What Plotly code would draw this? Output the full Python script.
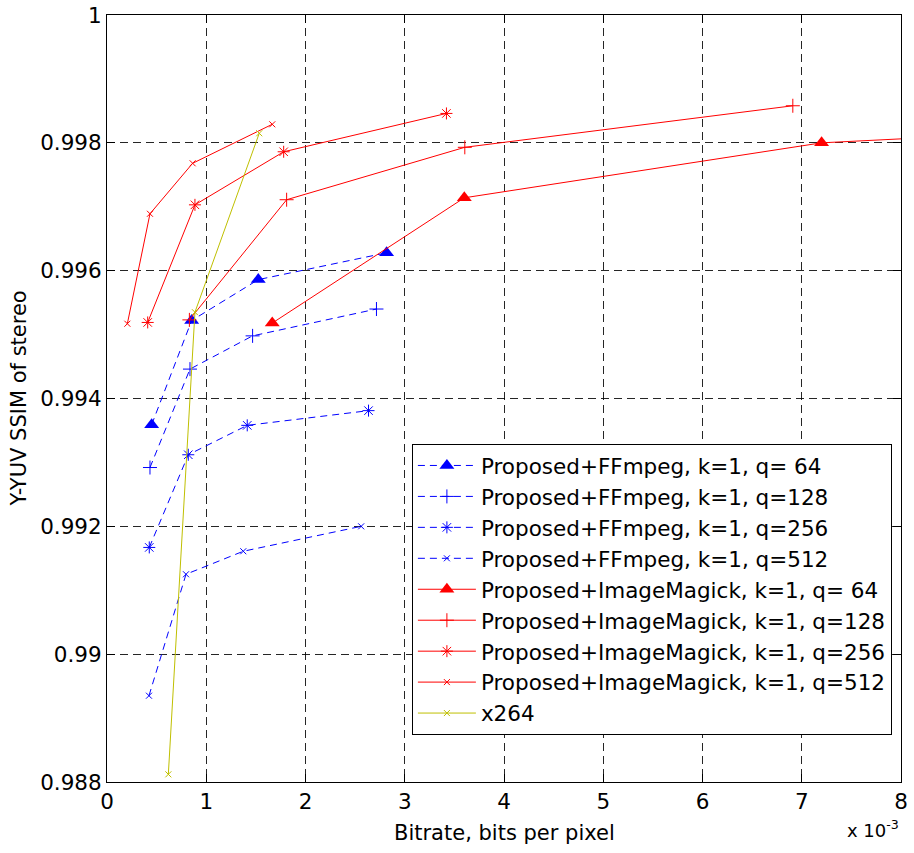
import plotly.graph_objects as go

# Bitrate (x 1e-3 bits per pixel) and Y-YUV SSIM for each coder configuration
ff64_bpp = [0.45, 0.853, 1.524, 2.817]
ff64_ssim = [0.99359, 0.99522, 0.99586, 0.99628]

ff128_bpp = [0.433, 0.836, 1.467, 2.715]
ff128_ssim = [0.99292, 0.99446, 0.99498, 0.99540]

ff256_bpp = [0.426, 0.819, 1.413, 2.635]
ff256_ssim = [0.99167, 0.99312, 0.99358, 0.99381]

ff512_bpp = [0.423, 0.796, 1.373, 2.561]
ff512_ssim = [0.98935, 0.99125, 0.99161, 0.99200]

im64_bpp = [1.665, 3.60, 7.20, 14.4]
im64_ssim = [0.99518, 0.99714, 0.99800, 0.99856]

im128_bpp = [0.83, 1.81, 3.605, 6.91]
im128_ssim = [0.99523, 0.99711, 0.99793, 0.99858]

im256_bpp = [0.41, 0.886, 1.78, 3.42]
im256_ssim = [0.99519, 0.99703, 0.99786, 0.99846]

im512_bpp = [0.205, 0.433, 0.863, 1.665]
im512_ssim = [0.99517, 0.99689, 0.99768, 0.99829]

x264_bpp = [0.618, 0.886, 1.534]
x264_ssim = [0.98812, 0.99535, 0.99815]

x_ticks = [0, 1, 2, 3, 4, 5, 6, 7, 8]
y_ticks = [0.988, 0.99, 0.992, 0.994, 0.996, 0.998, 1.0]
y_tick_text = ["0.988", "0.99", "0.992", "0.994", "0.996", "0.998", "1"]

BLUE = "#0000ff"
RED = "#ff0000"
OLIVE = "#bfbf00"
FONT = "DejaVu Sans, Liberation Sans, Arial, sans-serif"


def marker(symbol, color, size):
    if symbol == "triangle-up":
        return dict(symbol=symbol, size=size, color=color, line=dict(width=0))
    return dict(symbol=symbol, size=size, color=color, line=dict(width=1, color=color))


series = [
    ("Proposed+FFmpeg, k=1, q= 64", ff64_bpp, ff64_ssim, BLUE, "dash", "triangle-up", 13),
    ("Proposed+FFmpeg, k=1, q=128", ff128_bpp, ff128_ssim, BLUE, "dash", "cross-thin", 10),
    ("Proposed+FFmpeg, k=1, q=256", ff256_bpp, ff256_ssim, BLUE, "dash", "asterisk", 10),
    ("Proposed+FFmpeg, k=1, q=512", ff512_bpp, ff512_ssim, BLUE, "dash", "x-thin", 6),
    ("Proposed+ImageMagick, k=1, q= 64", im64_bpp, im64_ssim, RED, "solid", "triangle-up", 13),
    ("Proposed+ImageMagick, k=1, q=128", im128_bpp, im128_ssim, RED, "solid", "cross-thin", 10),
    ("Proposed+ImageMagick, k=1, q=256", im256_bpp, im256_ssim, RED, "solid", "asterisk", 10),
    ("Proposed+ImageMagick, k=1, q=512", im512_bpp, im512_ssim, RED, "solid", "x-thin", 6),
    ("x264", x264_bpp, x264_ssim, OLIVE, "solid", "x-thin", 6),
]

fig = go.Figure()
for name, xs, ys, color, dash, sym, size in series:
    fig.add_trace(go.Scatter(
        x=xs, y=ys, name=name, mode="lines+markers",
        line=dict(color=color, width=1, dash="7px,5px" if dash == "dash" else "solid"),
        marker=marker(sym, color, size),
        cliponaxis=True,
    ))

axis_common = dict(
    showline=True, linecolor="black", linewidth=1, mirror="ticks",
    ticks="inside", ticklen=8, tickwidth=1, tickcolor="black",
    showgrid=True, gridcolor="rgba(0,0,0,0.85)", gridwidth=1, griddash="8px,5px",
    zeroline=False, automargin=False,
    tickfont=dict(family=FONT, size=21.5, color="black"),
)

fig.update_xaxes(range=[0, 8], tickvals=x_ticks, ticktext=[str(v) for v in x_ticks], **axis_common)
fig.update_yaxes(range=[0.988, 1.0], tickvals=y_ticks, ticktext=y_tick_text, **axis_common)

fig.update_layout(
    width=914, height=853,
    margin=dict(l=107, r=13, t=15, b=71, autoexpand=False),
    paper_bgcolor="white", plot_bgcolor="white",
    font=dict(family=FONT, size=21, color="black"),
    showlegend=True,
    legend=dict(
        x=0.384, y=0.4407, xanchor="left", yanchor="top",
        bgcolor="white", bordercolor="black", borderwidth=1,
        font=dict(family=FONT, size=21.5, color="black"),
        tracegroupgap=0, itemwidth=58,
    ),
    annotations=[
        dict(text="Bitrate, bits per pixel", xref="paper", yref="paper",
             x=0.5, y=-0.0665, xanchor="center", yanchor="middle",
             showarrow=False, font=dict(family=FONT, size=21, color="black")),
        dict(text="Y-YUV SSIM of stereo", xref="paper", yref="paper",
             x=-0.112, y=0.5, xanchor="center", yanchor="middle", textangle=-90,
             showarrow=False, font=dict(family=FONT, size=21, color="black")),
        dict(text="x 10<sup>-3</sup>", xref="paper", yref="paper",
             x=1.0, y=-0.043, xanchor="right", yanchor="top",
             showarrow=False, font=dict(family=FONT, size=18, color="black")),
    ],
)

fig.write_html("out.html")
